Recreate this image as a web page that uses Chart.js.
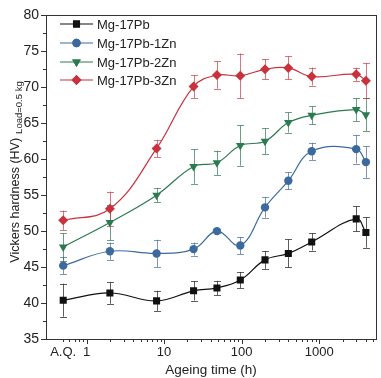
<!DOCTYPE html>
<html><head><meta charset="utf-8">
<script src="https://cdn.jsdelivr.net/npm/chart.js@4.4.1/dist/chart.umd.min.js"></script>
<style>html,body{margin:0;padding:0;background:#fff}#wrap{width:381px;height:378px;position:relative}</style>
</head><body><div id="wrap"><canvas id="c"></canvas></div>
<script>
// ---- data ----
const ageingTime = [0.5, 2, 8, 24, 48, 96, 200, 400, 800, 3000, 4000];
const seriesNames = ['Mg-17Pb', 'Mg-17Pb-1Zn', 'Mg-17Pb-2Zn', 'Mg-17Pb-3Zn'];
const hvMg17Pb    = [40.4, 41.4, 40.3, 41.7, 42.1, 43.2, 46.0, 46.9, 48.5, 51.7, 49.8];
const errMg17Pb   = [2.3, 1.5, 1.4, 1.35, 1.0, 1.1, 1.25, 1.95, 1.2, 1.75, 2.1];
const hvMg17Pb1Zn = [45.2, 47.2, 46.9, 47.5, 50.0, 48.0, 53.3, 57.0, 61.1, 61.4, 59.6];
const errMg17Pb1Zn= [1.2, 1.2, 1.9, 0.9, 0.3, 1.2, 1.45, 1.2, 1.2, 2.0, 2.2];
const hvMg17Pb2Zn = [47.8, 51.2, 55.0, 59.0, 59.5, 61.9, 62.5, 65.1, 66.1, 66.9, 66.2];
const errMg17Pb2Zn= [1.9, 2.5, 1.0, 2.4, 1.7, 2.8, 1.8, 1.4, 1.25, 1.6, 2.3];
const hvMg17Pb3Zn = [51.5, 53.1, 61.5, 70.1, 71.7, 71.6, 72.5, 72.7, 71.5, 71.8, 70.9];
const errMg17Pb3Zn= [1.35, 2.4, 1.2, 1.6, 1.9, 3.1, 1.4, 1.6, 1.25, 0.9, 2.45];
const xLabelValues = [0.5, 1, 10, 100, 1000];
const xLabelTexts  = ['A.Q.', '1', '10', '100', '1000'];
const yTickLabels  = [35, 40, 45, 50, 55, 60, 65, 70, 75, 80];

// ---- styles ----
const FONT = '"Liberation Sans", Arial, sans-serif';
const colors = ['#111111', '#3d6a9e', '#2b7b50', '#c9323d'];
const errColors = ['rgba(40,40,40,0.75)', 'rgba(70,105,150,0.7)', 'rgba(45,120,80,0.7)', 'rgba(200,60,70,0.7)'];
const pointStyles = ['rect', 'circle', 'triangle', 'rectRot'];
const pointRadii = [5, 4.2, 5, 5];
const pointRot = [0, 0, 180, 0];
const values = [hvMg17Pb, hvMg17Pb1Zn, hvMg17Pb2Zn, hvMg17Pb3Zn];
const errors = [errMg17Pb, errMg17Pb1Zn, errMg17Pb2Zn, errMg17Pb3Zn];

// minor ticks for log axis
const xTickValues = [];
[0.1, 1, 10, 100, 1000].forEach(d => { for (let m = 1; m <= 9; m++) { const v = +(m * d).toPrecision(6); if (v >= 0.5 && v <= 5000) xTickValues.push(v); } });

const datasets = values.map((vals, i) => ({
  label: seriesNames[i],
  data: ageingTime.map((t, j) => ({ x: t, y: vals[j] })),
  errs: errors[i],
  borderColor: colors[i],
  backgroundColor: colors[i],
  borderWidth: 1.2,
  pointStyle: pointStyles[i],
  pointRadius: pointRadii[i],
  pointRotation: pointRot[i],
  pointBorderWidth: 0,
  tension: 0.4,
  errColor: errColors[i]
}));

const errorBarPlugin = {
  id: 'errorBars',
  beforeDatasetsDraw(chart) {
    const ctx = chart.ctx, x = chart.scales.x, y = chart.scales.y;
    ctx.save();
    chart.data.datasets.forEach(ds => {
      ctx.strokeStyle = ds.errColor; ctx.lineWidth = 1;
      ds.data.forEach((p, j) => {
        const e = ds.errs[j];
        const px = Math.round(x.getPixelForValue(p.x)) + 0.5;
        const y1 = y.getPixelForValue(p.y + e), y2 = y.getPixelForValue(p.y - e);
        ctx.beginPath();
        ctx.moveTo(px, y1); ctx.lineTo(px, y2);
        ctx.moveTo(px - 3.5, Math.round(y1) + 0.5); ctx.lineTo(px + 3.5, Math.round(y1) + 0.5);
        ctx.moveTo(px - 3.5, Math.round(y2) + 0.5); ctx.lineTo(px + 3.5, Math.round(y2) + 0.5);
        ctx.stroke();
      });
    });
    ctx.restore();
  }
};

const decoPlugin = {
  id: 'deco',
  afterDraw(chart) {
    const ctx = chart.ctx, a = chart.chartArea, x = chart.scales.x, y = chart.scales.y;
    ctx.save();
    ctx.strokeStyle = '#333'; ctx.lineWidth = 1;
    ctx.strokeRect(Math.round(a.left) + 0.5, Math.round(a.top) + 0.5, Math.round(a.right - a.left), Math.round(a.bottom - a.top));
    ctx.beginPath();
    y.ticks.forEach(t => {
      const py = Math.round(y.getPixelForValue(t.value)) + 0.5;
      const len = (Math.abs(t.value % 5) < 1e-6) ? 5 : 3;
      ctx.moveTo(Math.round(a.left) - len, py); ctx.lineTo(Math.round(a.left), py);
    });
    x.ticks.forEach(t => {
      const px = Math.round(x.getPixelForValue(t.value)) + 0.5;
      const lg = Math.log10(t.value);
      const len = (Math.abs(lg - Math.round(lg)) < 1e-6) ? 5 : 3;
      ctx.moveTo(px, Math.round(a.bottom)); ctx.lineTo(px, Math.round(a.bottom) + len);
    });
    ctx.stroke();

    // y title with subscript
    const main = 'Vickers hardness (HV)', sub = 'Load=0.5 kg';
    ctx.fillStyle = '#222';
    ctx.font = '12.5px ' + FONT; const w1 = ctx.measureText(main).width;
    ctx.font = '9.5px ' + FONT; const w2 = ctx.measureText(sub).width;
    const gap = 4;
    const total = w1 + gap + w2;
    ctx.translate(19, 172);
    ctx.rotate(-Math.PI / 2);
    ctx.textBaseline = 'alphabetic'; ctx.textAlign = 'left';
    ctx.font = '12.5px ' + FONT; ctx.fillText(main, -total / 2, 0);
    ctx.font = '9.5px ' + FONT; ctx.fillText(sub, -total / 2 + w1 + gap, 2.5);
    ctx.setTransform(1, 0, 0, 1, 0, 0);

    // legend
    const rows = [24, 43, 62, 80];
    chart.data.datasets.forEach((ds, i) => {
      const ry = rows[i];
      ctx.strokeStyle = ds.borderColor; ctx.lineWidth = 1.2;
      ctx.beginPath(); ctx.moveTo(60, ry); ctx.lineTo(93, ry); ctx.stroke();
      ctx.fillStyle = ds.backgroundColor;
      Chart.helpers.drawPoint(ctx, { pointStyle: ds.pointStyle, rotation: ds.pointRotation, radius: ds.pointRadius, borderWidth: 0 }, 76.5, ry);
      ctx.fill();
      ctx.fillStyle = '#222'; ctx.font = '13px ' + FONT; ctx.textBaseline = 'middle'; ctx.textAlign = 'left';
      ctx.fillText(ds.label, 97, ry + 1);
    });
    ctx.restore();
  }
};

new Chart(document.getElementById('c'), {
  type: 'line',
  data: { datasets },
  options: {
    responsive: true, maintainAspectRatio: false, animation: false,
    layout: { padding: { top: 9, right: 5, left: 0, bottom: 0 } },
    plugins: { legend: { display: false }, tooltip: { enabled: false } },
    scales: {
      x: {
        type: 'logarithmic', min: 0.3, max: 5400,
        afterBuildTicks: s => { s.ticks = xTickValues.map(v => ({ value: v })); },
        afterFit: s => { s.height = 39; },
        grid: { display: false, drawTicks: false },
        border: { display: false },
        ticks: {
          autoSkip: false, maxRotation: 0, minRotation: 0, padding: 6, color: '#222',
          font: { family: FONT, size: 13 },
          callback: v => { const k = xLabelValues.findIndex(u => Math.abs(u - v) < 1e-9); return k >= 0 ? xLabelTexts[k] : ''; }
        },
        title: { display: true, text: 'Ageing time (h)', color: '#222', font: { family: FONT, size: 13.5 }, padding: { top: 0, bottom: 0 } }
      },
      y: {
        min: 35, max: 80,
        afterFit: s => { s.width = 46; },
        grid: { display: false, drawTicks: false },
        border: { display: false },
        ticks: {
          stepSize: 2.5, autoSkip: false, padding: 7, color: '#222',
          font: { family: FONT, size: 14 },
          callback: v => yTickLabels.includes(v) ? String(v) : ''
        }
      }
    }
  },
  plugins: [errorBarPlugin, decoPlugin]
});
</script></body></html>
